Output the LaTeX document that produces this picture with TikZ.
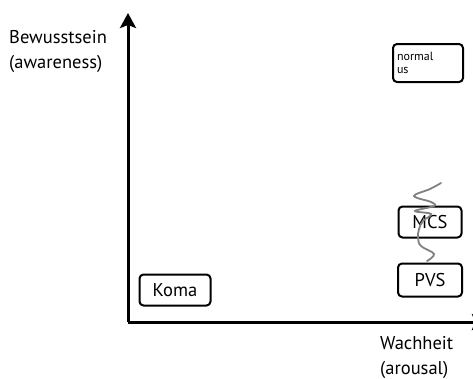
\documentclass[tikz,border=0pt]{standalone}
\usepackage{fontspec}
\setmainfont{PT Sans}
\usetikzlibrary{arrows.meta}
\tikzset{
	state/.style={draw, line width=2pt, rounded corners=4pt, inner sep=2pt, font=\fontsize{18.5}{20}\selectfont},
	axis/.style={line width=3pt, -{Stealth[length=15pt,width=16pt,inset=3pt]}},
	lbl/.style={align=left, font=\fontsize{18.5}{25}\selectfont, inner sep=0pt}
}
\begin{document}
\begin{tikzpicture}[x=1pt,y=-1pt]
	\useasboundingbox (0,0) rectangle (473,378);
	\coordinate (origin) at (128,322);
	\coordinate (ytop) at (128,13);
	\coordinate (xend) at (487,322);
	\draw [axis] (origin) -- (ytop);
	\draw [axis] (origin) -- (xend);
	\node [lbl, anchor=north west] (yl) at (9,30) {Bewusstsein\\(awareness)};
	\node [lbl, anchor=north west] (xl) at (380,336) {Wachheit\\(arousal)};
	\node [state, minimum width=71pt, minimum height=31pt] (koma) at (175,290) {Koma};
	\node [state, minimum width=64pt, minimum height=33pt] (pvs) at (430,280) {PVS};
	\node [state, minimum width=63pt, minimum height=31pt] (mcs) at (430,222) {MCS};
	\node [state, minimum width=70pt, minimum height=38pt, text width=62pt, align=left, font=\fontsize{12}{13}\selectfont] (normal) at (428,63) {normal\\us};
	% scribble over MCS
	\draw [gray, line width=1.8pt, line cap=round] plot [smooth, tension=0.6] coordinates {(441,183) (430,189) (414,196) (431,202) (434,206) (415,211) (431,214) (423,221) (419,229) (418,238) (421,246) (434,254) (427,261)};
\end{tikzpicture}
\end{document}
